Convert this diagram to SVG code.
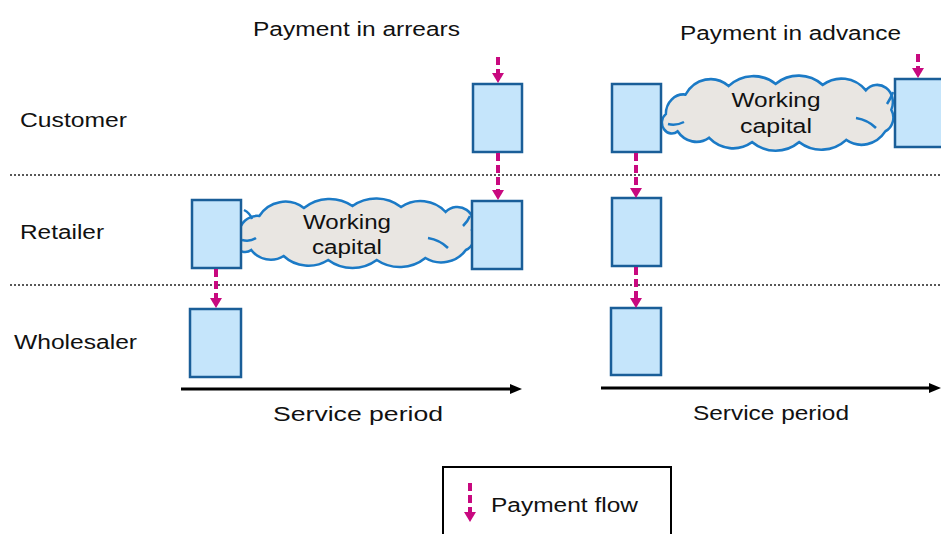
<svg xmlns="http://www.w3.org/2000/svg" width="941" height="534" viewBox="0 0 941 534">
<style>
text{font-family:"Liberation Sans",Arial,sans-serif;font-size:20px;fill:#111;}
.box{fill:#C5E5FB;stroke:#1A5E98;stroke-width:2.5;}
.cloud{fill:#E9E6E2;stroke:#1B7AC6;stroke-width:2.5;}
.curl{fill:none;stroke:#1B7AC6;stroke-width:2.5;}
.pay{fill:none;stroke:#C8097F;stroke-width:4;stroke-dasharray:8 4;}
.sep{fill:none;stroke:#222;stroke-width:1.6;stroke-dasharray:2 2;}
.axis{fill:none;stroke:#000;stroke-width:3;}
</style>
<defs>
<marker id="mh" markerUnits="userSpaceOnUse" viewBox="0 0 10 12" markerWidth="10" markerHeight="12" refX="0" refY="6" orient="auto"><path d="M0,0 L10,6 L0,12 z" fill="#C8097F"/></marker>
<marker id="ah" markerUnits="userSpaceOnUse" viewBox="0 0 12 10" markerWidth="12" markerHeight="10" refX="0" refY="5" orient="auto"><path d="M0,0 L12,5 L0,10 z" fill="#000"/></marker>
<path id="cloudShape" d="M6,38 A18,18 0 0 1 26,20 A30,30 0 0 1 70,12 A40,40 0 0 1 118,10 A40,40 0 0 1 166,11 A34,34 0 0 1 210,16 A16,16 0 0 1 236,34 A14,14 0 0 1 230,54 A30,30 0 0 1 190,62 A40,40 0 0 1 142,64 A40,40 0 0 1 94,64 A36,36 0 0 1 50,60 A24,24 0 0 1 18,54 A10,10 0 0 1 6,38 z"/>
</defs>

<text x="253" y="36" textLength="207" lengthAdjust="spacingAndGlyphs">Payment in arrears</text>
<text x="680" y="40" textLength="221" lengthAdjust="spacingAndGlyphs">Payment in advance</text>
<text x="20" y="127" textLength="107" lengthAdjust="spacingAndGlyphs">Customer</text>
<text x="20" y="239" textLength="84" lengthAdjust="spacingAndGlyphs">Retailer</text>
<text x="14" y="349" textLength="123" lengthAdjust="spacingAndGlyphs">Wholesaler</text>

<g id="separators">
<line class="sep" x1="10" y1="175" x2="941" y2="175"/>
<line class="sep" x1="10" y1="285" x2="941" y2="285"/>
</g>

<g id="cloud-arrears">
<use href="#cloudShape" class="cloud" transform="translate(233,196) scale(1.0125,1)"/>
<path class="curl" d="M244,210 q6,3 8,9"/>
<path class="curl" d="M242,240 q8,2 14,-2"/>
<path class="curl" d="M428,238 q12,2 20,10"/>
<path class="curl" d="M463,226 q5,-5 7,-10"/>
<text x="347" y="229" text-anchor="middle" textLength="88" lengthAdjust="spacingAndGlyphs">Working</text>
<text x="347" y="254" text-anchor="middle" textLength="70" lengthAdjust="spacingAndGlyphs">capital</text>
</g>

<g id="cloud-advance">
<use href="#cloudShape" class="cloud" transform="translate(660,73) scale(0.98,1.08)"/>
<path class="curl" d="M668,124 q8,2 16,-2"/>
<path class="curl" d="M856,118 q12,2 20,10"/>
<path class="curl" d="M887,104 q4,-6 6,-12"/>
<text x="776" y="107" text-anchor="middle" textLength="89" lengthAdjust="spacingAndGlyphs">Working</text>
<text x="776" y="133" text-anchor="middle" textLength="72" lengthAdjust="spacingAndGlyphs">capital</text>
</g>

<g id="customer-arrears"><rect class="box" x="473" y="84" width="49" height="68"/></g>
<g id="retailer-arrears-right"><rect class="box" x="472" y="201" width="50" height="68"/></g>
<g id="retailer-arrears-left"><rect class="box" x="192" y="200" width="49" height="68"/></g>
<g id="wholesaler-arrears"><rect class="box" x="190" y="309" width="51" height="68"/></g>
<g id="customer-advance-left"><rect class="box" x="612" y="84" width="49" height="68"/></g>
<g id="customer-advance-right"><rect class="box" x="895" y="79" width="50" height="68"/></g>
<g id="retailer-advance"><rect class="box" x="612" y="198" width="49" height="68"/></g>
<g id="wholesaler-advance"><rect class="box" x="611" y="308" width="50" height="67"/></g>

<g id="connectors">
<line class="pay" x1="498" y1="57" x2="498" y2="73" marker-end="url(#mh)"/>
<line class="pay" x1="498" y1="153" x2="498" y2="190" marker-end="url(#mh)"/>
<line class="pay" x1="216" y1="269" x2="216" y2="298" marker-end="url(#mh)"/>
<line class="pay" x1="636" y1="153" x2="636" y2="188" marker-end="url(#mh)"/>
<line class="pay" x1="636" y1="267" x2="636" y2="298" marker-end="url(#mh)"/>
<line class="pay" x1="918" y1="54" x2="918" y2="68" marker-end="url(#mh)"/>
<line class="axis" x1="181" y1="389" x2="510" y2="389" marker-end="url(#ah)"/>
<line class="axis" x1="601" y1="388" x2="929" y2="388" marker-end="url(#ah)"/>
</g>

<text x="273" y="421" textLength="170" lengthAdjust="spacingAndGlyphs">Service period</text>
<text x="693" y="420" textLength="156" lengthAdjust="spacingAndGlyphs">Service period</text>

<g id="legend">
<rect x="443" y="467" width="228" height="80" fill="#fff" stroke="#000" stroke-width="2"/>
<line class="pay" x1="470" y1="483" x2="470" y2="512" marker-end="url(#mh)"/>
<text x="491" y="512" textLength="147" lengthAdjust="spacingAndGlyphs">Payment flow</text>
</g>
</svg>
